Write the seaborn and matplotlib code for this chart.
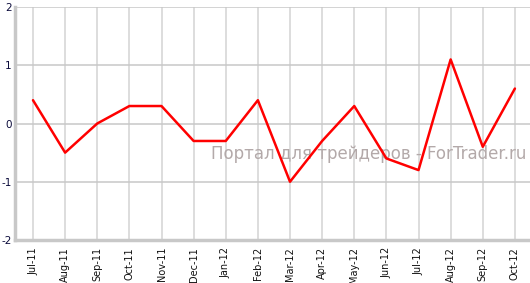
import matplotlib
matplotlib.use("Agg")
import matplotlib.pyplot as plt
import seaborn as sns
import pandas as pd

months = ["Jul-11", "Aug-11", "Sep-11", "Oct-11", "Nov-11", "Dec-11", "Jan-12", "Feb-12",
          "Mar-12", "Apr-12", "May-12", "Jun-12", "Jul-12", "Aug-12", "Sep-12", "Oct-12"]
values = [0.4, -0.5, 0.0, 0.3, 0.3, -0.3, -0.3, 0.4, -1.0, -0.3, 0.3, -0.6, -0.8, 1.1, -0.4, 0.6]
yticks = [-2, -1, 0, 1, 2]
watermark = "Портал для трейдеров - ForTrader.ru"

sns.set_style("white")
plt.rcParams['font.family'] = ['DejaVu Sans']

W, H = 530, 283
fig = plt.figure(figsize=(W / 100, H / 100), dpi=100)
ax = fig.add_axes([15 / W, 43 / H, (W - 15) / W, (240 - 7) / H])

df = pd.DataFrame({"x": range(len(months)), "v": values})
sns.lineplot(data=df, x="x", y="v", ax=ax, color="#ff0000", linewidth=1.8, zorder=3)

ax.set_xlim(-0.56, 15.47)
ax.set_ylim(-2, 2)
ax.set_xticks(range(len(months)))
ax.set_xticklabels(months, rotation=90, fontsize=7, color="#111111")
ax.set_yticks(yticks)
ax.set_yticklabels([str(t) for t in yticks], fontsize=7.5, color="#0a0a3a")
ax.set_xlabel("")
ax.set_ylabel("")

for x in range(len(months)):
    ax.axvline(x, color="#dddddd", linewidth=1.4, zorder=0)
for y in yticks:
    ax.axhline(y, color="#c8c8c8", linewidth=1.1, zorder=0)

for s in ["top", "right"]:
    ax.spines[s].set_visible(False)
for s in ["left", "bottom"]:
    ax.spines[s].set_color("#c8c8c8")
    ax.spines[s].set_linewidth(2.5)

ax.tick_params(axis="y", length=2, width=1, color="#c8c8c8", pad=0.5)
ax.tick_params(axis="x", length=3, width=1, color="#c8c8c8", pad=2)

ax.text(0.993, 0.37, watermark, transform=ax.transAxes, ha="right", va="center",
        fontsize=12, color="#b3a9a9", zorder=1)

fig.savefig("out.png", dpi=100)
